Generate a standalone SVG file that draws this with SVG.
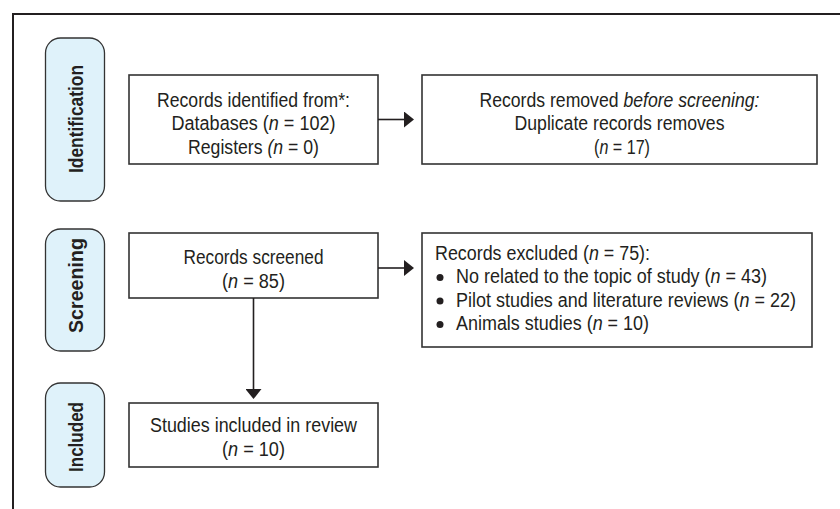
<svg xmlns="http://www.w3.org/2000/svg" width="840" height="509" viewBox="0 0 840 509">
<style>
  .frame{fill:none;stroke:#231f20;stroke-width:2}
  .pill{fill:#dff2fa;stroke:#333;stroke-width:1.3}
  .box{fill:#fff;stroke:#333;stroke-width:1.6}
  .t{font-family:"Liberation Sans",Arial,sans-serif;font-size:20px;fill:#231f20}
  .c{text-anchor:middle}
  .lab{font-family:"Liberation Sans",Arial,sans-serif;font-size:20px;font-weight:bold;fill:#231f20;text-anchor:middle}
  .i{font-style:italic}
  .conn{stroke:#231f20;stroke-width:1.6;fill:none}
</style>
<defs>
  <marker id="ah" markerWidth="10" markerHeight="16" refX="0" refY="8" orient="auto" markerUnits="userSpaceOnUse">
    <path d="M0,0 L10,8 L0,16 z" fill="#231f20"/>
  </marker>
</defs>
<rect width="840" height="509" fill="#fff"/>
<path class="frame" d="M13,509 V14 H840"/>

<g id="stage-identification">
  <rect class="pill" x="45.5" y="38" width="59" height="163" rx="15"/>
  <text class="lab" transform="translate(82.5,119) rotate(-90)" textLength="108" lengthAdjust="spacingAndGlyphs">Identification</text>
</g>
<g id="stage-screening">
  <rect class="pill" x="45.5" y="229" width="59" height="122" rx="15"/>
  <text class="lab" transform="translate(82.5,285.5) rotate(-90)" textLength="95" lengthAdjust="spacingAndGlyphs">Screening</text>
</g>
<g id="stage-included">
  <rect class="pill" x="45.5" y="383" width="59" height="104" rx="15"/>
  <text class="lab" transform="translate(82.5,437) rotate(-90)" textLength="70" lengthAdjust="spacingAndGlyphs">Included</text>
</g>

<g id="records-identified">
  <rect class="box" x="129" y="75" width="249" height="89"/>
  <text class="t c" x="253.5" y="106.5" textLength="193" lengthAdjust="spacingAndGlyphs">Records identified from*:</text>
  <text class="t c" x="253.5" y="130" textLength="164" lengthAdjust="spacingAndGlyphs">Databases (<tspan class="i">n</tspan> = 102)</text>
  <text class="t c" x="253.5" y="153.5" textLength="131" lengthAdjust="spacingAndGlyphs">Registers <tspan class="i">(n</tspan> = 0)</text>
</g>

<g id="records-removed">
  <rect class="box" x="422" y="75" width="395" height="89"/>
  <text class="t c" x="619.5" y="106.5" textLength="280" lengthAdjust="spacingAndGlyphs">Records removed <tspan class="i">before screening:</tspan></text>
  <text class="t c" x="619.5" y="130" textLength="210" lengthAdjust="spacingAndGlyphs">Duplicate records removes</text>
  <text class="t c" x="622" y="153.5" textLength="56" lengthAdjust="spacingAndGlyphs">(<tspan class="i">n</tspan> = 17)</text>
</g>

<g id="records-screened">
  <rect class="box" x="129" y="233" width="249" height="65"/>
  <text class="t c" x="253.5" y="264" textLength="140" lengthAdjust="spacingAndGlyphs">Records screened</text>
  <text class="t c" x="253.5" y="287.5" textLength="63" lengthAdjust="spacingAndGlyphs">(<tspan class="i">n</tspan> = 85)</text>
</g>

<g id="records-excluded">
  <rect class="box" x="422" y="233" width="390" height="114"/>
  <text class="t" x="435" y="260" textLength="215" lengthAdjust="spacingAndGlyphs">Records excluded (<tspan class="i">n</tspan> = 75):</text>
  <circle cx="440" cy="277.5" r="3.5" fill="#231f20"/>
  <text class="t" x="456" y="283" textLength="311" lengthAdjust="spacingAndGlyphs">No related to the topic of study (<tspan class="i">n</tspan> = 43)</text>
  <circle cx="440" cy="301" r="3.5" fill="#231f20"/>
  <text class="t" x="456" y="306.5" textLength="340" lengthAdjust="spacingAndGlyphs">Pilot studies and literature reviews (<tspan class="i">n</tspan> = 22)</text>
  <circle cx="440" cy="324.5" r="3.5" fill="#231f20"/>
  <text class="t" x="456" y="330" textLength="193" lengthAdjust="spacingAndGlyphs">Animals studies (<tspan class="i">n</tspan> = 10)</text>
</g>

<g id="studies-included">
  <rect class="box" x="129" y="403" width="249" height="64"/>
  <text class="t c" x="253.5" y="432" textLength="207" lengthAdjust="spacingAndGlyphs">Studies included in review</text>
  <text class="t c" x="253.5" y="455.5" textLength="63" lengthAdjust="spacingAndGlyphs">(<tspan class="i">n</tspan> = 10)</text>
</g>

<g id="connectors">
  <line class="conn" x1="378" y1="119.5" x2="404" y2="119.5" marker-end="url(#ah)"/>
  <line class="conn" x1="378" y1="268" x2="404" y2="268" marker-end="url(#ah)"/>
  <line class="conn" x1="253.5" y1="298" x2="253.5" y2="389" marker-end="url(#ah)"/>
</g>
</svg>
